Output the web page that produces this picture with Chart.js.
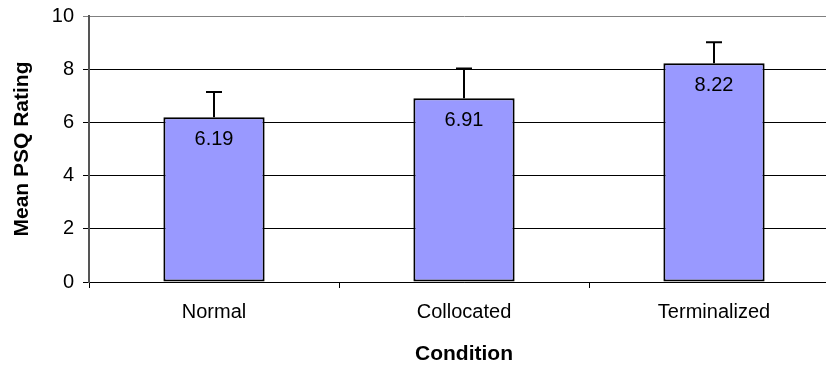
<!DOCTYPE html>
<html>
<head>
<meta charset="utf-8">
<script src="https://cdn.jsdelivr.net/npm/chart.js@4/dist/chart.umd.min.js"></script>
<style>
  body { margin: 0; background: #fff; }
  #wrap { width: 826px; height: 369px; overflow: hidden; }
</style>
</head>
<body>
<div id="wrap"><canvas id="chart" width="845" height="369"></canvas></div>
<script>
const conditions = ["Normal", "Collocated", "Terminalized"];
const means = [6.19, 6.91, 8.22];
const errorTops = [7.14, 8.03, 9.01];
const yTicks = [0, 2, 4, 6, 8, 10];

const font = "'Liberation Sans', Arial, sans-serif";

// upper error bars + value labels inside the bars
const extras = {
  id: "extras",
  afterDatasetsDraw(chart) {
    const ctx = chart.ctx;
    const yScale = chart.scales.y;
    const meta = chart.getDatasetMeta(0);
    ctx.save();
    meta.data.forEach((bar, i) => {
      const top = yScale.getPixelForValue(errorTops[i]);
      ctx.strokeStyle = "#000";
      ctx.lineWidth = 2;
      ctx.beginPath();
      ctx.moveTo(bar.x, bar.y);
      ctx.lineTo(bar.x, top);
      ctx.moveTo(bar.x - 8, top);
      ctx.lineTo(bar.x + 8, top);
      ctx.stroke();

      ctx.fillStyle = "#000";
      ctx.font = "20px " + font;
      ctx.textAlign = "center";
      ctx.textBaseline = "middle";
      ctx.fillText(means[i].toFixed(2), bar.x, bar.y + 22);
    });
    ctx.restore();
  }
};

new Chart(document.getElementById("chart"), {
  type: "bar",
  data: {
    labels: conditions,
    datasets: [{
      data: means,
      backgroundColor: "#9999FF",
      borderColor: "#000",
      borderWidth: 2,
      borderSkipped: false,
      barPercentage: 0.405,
      categoryPercentage: 1
    }]
  },
  options: {
    responsive: false,
    animation: false,
    layout: { padding: { top: 16, right: 6, left: 0, bottom: 0 } },
    plugins: { legend: { display: false }, tooltip: { enabled: false } },
    scales: {
      x: {
        afterFit: s => { s.height = 87; },
        grid: { offset: true, drawOnChartArea: false, color: "#000", tickLength: 6 },
        border: { color: "#000", width: 1 },
        ticks: { color: "#000", font: { family: font, size: 20 }, padding: 12 },
        title: {
          display: true, text: "Condition", color: "#000",
          font: { family: font, size: 21, weight: "bold" },
          padding: { top: 0, bottom: 2 }
        }
      },
      y: {
        min: 0, max: 10,
        afterFit: s => { s.width = 89; s.paddingTop = 0; s.paddingBottom = 0; },
        afterBuildTicks: s => { s.ticks = yTicks.map(v => ({ value: v })); },
        grid: {
          color: c => (c.tick && c.tick.value === 10 ? "#808080" : "#000"),
          tickLength: 6
        },
        border: { color: "#555", width: 2 },
        ticks: { color: "#000", font: { family: font, size: 20 }, padding: 9 },
        title: {
          display: true, text: "Mean PSQ Rating", color: "#000",
          font: { family: font, size: 21, weight: "bold" },
          padding: { top: 10, bottom: 0 }
        }
      }
    }
  },
  plugins: [extras]
});
</script>
</body>
</html>
